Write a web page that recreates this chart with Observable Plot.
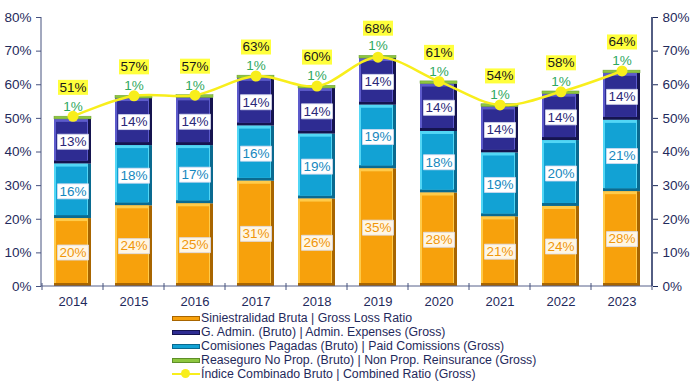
<!DOCTYPE html>
<html><head><meta charset="utf-8">
<script src="https://cdn.jsdelivr.net/npm/d3@7"></script>
<script src="https://cdn.jsdelivr.net/npm/@observablehq/plot@0.6"></script>
<style>
body{margin:0;background:#fff;font-family:"Liberation Sans",Arial,sans-serif;}
#chart svg{display:block}
#legend{margin-left:172px;margin-top:1px;font-size:12.3px;color:#1F2A5C;}
.row{display:flex;align-items:center;height:14.1px;white-space:nowrap}
.row .tx{display:inline-block;height:14.1px;line-height:14.1px}
.sw{width:28px;height:5px;margin-right:1px;box-sizing:border-box;border:1px solid #333}
.ln{width:28px;height:12px;margin-right:1px;position:relative}
.ln:before{content:"";position:absolute;left:0;right:0;top:5px;height:2px;background:#F8EE1C}
.ln:after{content:"";position:absolute;left:9px;top:1px;width:9px;height:9px;border-radius:50%;background:#F8EE1C}
</style></head><body>
<div id="chart"></div><div id="legend"></div>
<script>
const years = ["2014","2015","2016","2017","2018","2019","2020","2021","2022","2023"];
const lossRatio   = [20.2, 24.0, 24.6, 31.3, 26.0, 35.0, 27.8, 20.7, 23.8, 28.2];
const commissions = [16.2, 17.9, 17.3, 16.4, 19.3, 18.9, 18.3, 19.0, 19.6, 21.2];
const adminExp    = [13.3, 14.0, 14.2, 14.2, 13.6, 13.9, 14.1, 13.7, 13.8, 14.0];
const reinsurance = [0.8, 0.8, 0.8, 0.8, 0.8, 0.8, 0.8, 0.8, 0.8, 0.8];
const combinedRatio = [50.6, 56.7, 56.9, 62.6, 59.6, 68.2, 61.0, 54.0, 57.9, 64.1];
const yTicks = [0, 10, 20, 30, 40, 50, 60, 70, 80];
const legendLabels = [
  "Siniestralidad Bruta | Gross Loss Ratio",
  "G. Admin. (Bruto) | Admin. Expenses (Gross)",
  "Comisiones Pagadas (Bruto) | Paid Comissions (Gross)",
  "Reaseguro No Prop. (Bruto) | Non Prop. Reinsurance (Gross)",
  "Índice Combinado Bruto | Combined Ratio (Gross)"
];

const style = {
  loss:  {edge:"#A86500", light:"#FFCB4A", main:"#F7A10C", text:"#F0960A", box:"#FFF6E4"},
  comm:  {edge:"#0A6A90", light:"#52D6F5", main:"#12A2D4", text:"#1588BE", box:"#FFFFFF"},
  admin: {edge:"#15144F", light:"#5D5BCB", main:"#2E2C92", text:"#2A2878", box:"#FFFFFF"},
  reins: {main:"#8DC63F"}
};

const rows = [];
years.forEach((yr, i) => {
  let base = 0;
  for (const [key, arr] of [["loss", lossRatio], ["comm", commissions], ["admin", adminExp], ["reins", reinsurance]]) {
    rows.push({year: yr, series: key, y1: base, y2: base + arr[i], value: arr[i]});
    base += arr[i];
  }
});
const big = rows.filter(r => r.series !== "reins");
const reinsRows = rows.filter(r => r.series === "reins");
const combined = years.map((yr, i) => ({year: yr, value: combinedRatio[i]}));

const boxSym = (w, h) => ({draw(ctx) { ctx.rect(-w / 2, -h / 2, w, h); }});
const navy = "#1F2A5C";
const font = "Liberation Sans, Arial, sans-serif";

function decorations(index, scales, values, dims) {
  const x = scales.x, y = scales.y;
  const g = d3.create("svg:g");
  const L = dims.marginLeft, R = dims.width - dims.marginRight;
  const y0 = y(0), yTop = y(80);
  g.append("line").attr("x1", L).attr("x2", L).attr("y1", yTop).attr("y2", y0).attr("stroke", "#46527F").attr("stroke-width", 1);
  g.append("line").attr("x1", R).attr("x2", R).attr("y1", yTop).attr("y2", y0).attr("stroke", "#1A285A").attr("stroke-width", 1.5);
  g.append("line").attr("x1", L).attr("x2", R).attr("y1", y0).attr("y2", y0).attr("stroke", "#56608A").attr("stroke-width", 1);
  const step = x.step(), bw = x.bandwidth();
  const bounds = years.map(d => x(d) - (step - bw) / 2).concat([x(years[years.length - 1]) + bw + (step - bw) / 2]);
  for (const b of bounds) {
    g.append("line").attr("x1", b).attr("x2", b).attr("y1", y0 - 3).attr("y2", y0 + 4).attr("stroke", "#46527F");
  }
  return g.node();
}

const chart = Plot.plot({
  width: 698, height: 310,
  marginTop: 17, marginBottom: 24, marginLeft: 41, marginRight: 46,
  style: {fontFamily: font, background: "white"},
  x: {domain: years, paddingInner: 0.4, paddingOuter: 0.2, axis: null},
  y: {domain: [0, 80], axis: null},
  color: {type: "identity"},
  marks: [
    Plot.barY(big, {x: "year", y1: "y1", y2: "y2", fill: d => style[d.series].edge}),
    Plot.barY(big, {x: "year", y1: "y1", y2: "y2", fill: d => style[d.series].light, insetRight: 3, insetBottom: 3}),
    Plot.barY(big, {x: "year", y1: "y1", y2: "y2", fill: d => style[d.series].main, insetTop: 3, insetLeft: 2, insetRight: 4, insetBottom: 3}),
    Plot.barY(reinsRows, {x: "year", y1: "y1", y2: "y2", fill: style.reins.main, stroke: "#6A9E2E", strokeWidth: 0.5}),
    Plot.dot(big, {x: "year", y: d => (d.y1 + d.y2) / 2, symbol: boxSym(31, 15), fill: d => style[d.series].box, stroke: "#D8DCF0", strokeWidth: 0.8}),
    Plot.text(big, {x: "year", y: d => (d.y1 + d.y2) / 2, text: d => Math.round(d.value) + "%", fill: d => style[d.series].text, fontSize: 13.5, fontFamily: font}),
    Plot.text(reinsRows, {x: "year", y: "y2", dy: -10, text: d => Math.round(d.value) + "%", fill: "#2FA860", fontSize: 13.5, fontFamily: font}),
    Plot.line(combined, {x: "year", y: "value", stroke: "#F8EE1C", strokeWidth: 2.5, curve: "catmull-rom"}),
    Plot.dot(combined, {x: "year", y: "value", r: 5.5, fill: "#F8EE1C"}),
    Plot.dot(combined, {x: "year", y: "value", dy: -29, symbol: boxSym(30, 15), fill: "#FFFF3C"}),
    Plot.text(combined, {x: "year", y: "value", dy: -29, text: d => Math.round(d.value) + "%", fill: "#1a1a1a", fontSize: 13.5, fontFamily: font}),
    Plot.axisX({tickSize: 0, tickPadding: 10, fontSize: 13, fill: navy, label: null}),
    Plot.axisY({anchor: "left", ticks: yTicks, tickFormat: d => d + "%", tickSize: 5, tickPadding: 5, fontSize: 13.5, fill: navy, stroke: "#46527F", label: null}),
    Plot.axisY({anchor: "right", ticks: yTicks, tickFormat: d => d + "%", tickSize: 5, tickPadding: 5, fontSize: 13.5, fill: navy, stroke: "#1A285A", label: null}),
    decorations
  ]
});
document.getElementById("chart").appendChild(chart);

const legendColors = [
  {fill: style.loss.main, border: style.loss.edge},
  {fill: style.admin.main, border: style.admin.edge},
  {fill: style.comm.main, border: style.comm.edge},
  {fill: style.reins.main, border: "#5E8F28"}
];
const legend = document.getElementById("legend");
legendLabels.forEach((lab, i) => {
  const row = document.createElement("div");
  row.className = "row";
  const sw = document.createElement("span");
  if (i < 4) {
    sw.className = "sw";
    sw.style.background = legendColors[i].fill;
    sw.style.borderColor = legendColors[i].border;
  } else {
    sw.className = "ln";
  }
  row.appendChild(sw);
  const t = document.createElement("span");
  t.className = "tx";
  t.textContent = lab;
  row.appendChild(t);
  legend.appendChild(row);
});
</script>
</body></html>
